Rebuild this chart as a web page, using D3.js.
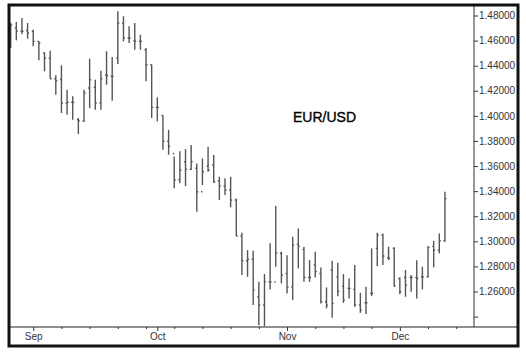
<!DOCTYPE html>
<html>
<head>
<meta charset="utf-8">
<style>
    body { margin: 0; background: #ffffff; }
    text.ylabel { font-family: Arial, "Liberation Sans", sans-serif; font-size: 10px; fill: #333; }
    text.xlabel { font-family: Arial, "Liberation Sans", sans-serif; font-size: 10px; fill: #333; text-anchor: middle; }
    text.title { font-family: Arial, "Liberation Sans", sans-serif; font-size: 14px; fill: #000; stroke: #000; stroke-width: 0.35px; }
    .bars line { stroke: #555; stroke-width: 1.4px; }
</style>
</head>
<body>
<svg width="526" height="354" id="chart"></svg>

<script charset="utf-8" src="https://d3js.org/d3.v7.min.js"></script>
<script charset="utf-8">

// daily EUR/USD bars, 26 Aug 2008 .. 11 Dec 2008 (one per trading day)
var open  = [1.4600,1.4700,1.4676,1.4680,1.4674,1.4594,1.4500,1.4460,1.4296,1.4290,
             1.4102,1.4108,1.3970,1.3960,1.4222,1.4227,1.4102,1.4328,1.4315,1.4461,
             1.4740,1.4621,1.4600,1.4594,1.4527,1.4408,1.4068,1.4004,1.3797,1.3700,
             1.3491,1.3634,1.3574,1.3582,1.3395,1.3600,1.3608,1.3483,1.3440,1.3409,
             1.3329,1.3042,1.2845,1.2856,1.2558,1.2492,1.2677,1.2677,1.2904,1.2744,
             1.2637,1.2976,1.2936,1.2712,1.2811,1.2744,1.2518,1.2771,1.2717,1.2643,
             1.2625,1.2617,1.2492,1.2510,1.2585,1.2944,1.3050,1.2870,1.2944,1.2704,
             1.2712,1.2712,1.2712,1.2717,1.2717,1.2960,1.2930,1.3004];
var high  = [1.4740,1.4748,1.4780,1.4740,1.4687,1.4594,1.4507,1.4519,1.4323,1.4403,
             1.4208,1.4156,1.3983,1.4208,1.4456,1.4288,1.4360,1.4515,1.4469,1.4833,
             1.4794,1.4714,1.4740,1.4647,1.4541,1.4408,1.4148,1.4004,1.3889,1.3677,
             1.3717,1.3735,1.3767,1.3621,1.3661,1.3754,1.3688,1.3515,1.3502,1.3515,
             1.3342,1.3068,1.2930,1.2925,1.2677,1.2739,1.2984,1.3281,1.2917,1.2890,
             1.3036,1.3103,1.2956,1.2850,1.2917,1.2792,1.2633,1.2845,1.2829,1.2739,
             1.2704,1.2811,1.2590,1.2637,1.2944,1.3068,1.3063,1.2956,1.2952,1.2712,
             1.2771,1.2731,1.2850,1.2797,1.2962,1.3004,1.3063,1.3395];
var low   = [1.4541,1.4602,1.4652,1.4615,1.4554,1.4443,1.4355,1.4296,1.4168,1.4023,
             1.4009,1.3969,1.3855,1.3951,1.4062,1.4049,1.4049,1.4248,1.4121,1.4413,
             1.4594,1.4581,1.4527,1.4527,1.4275,1.3983,1.3956,1.3730,1.3690,1.3424,
             1.3462,1.3440,1.3568,1.3236,1.3448,1.3554,1.3467,1.3329,1.3369,1.3271,
             1.3042,1.2731,1.2717,1.2492,1.2332,1.2324,1.2617,1.2797,1.2665,1.2585,
             1.2531,1.2784,1.2677,1.2677,1.2712,1.2505,1.2465,1.2390,1.2563,1.2510,
             1.2545,1.2478,1.2430,1.2420,1.2563,1.2802,1.2811,1.2850,1.2637,1.2579,
             1.2558,1.2598,1.2545,1.2617,1.2712,1.2792,1.2904,1.2996];
var close = [1.4724,1.4676,1.4674,1.4660,1.4594,1.4581,1.4460,1.4296,1.4280,1.4102,
             1.4108,1.4108,1.3960,1.4182,1.4288,1.4102,1.4296,1.4320,1.4315,1.4740,
             1.4621,1.4621,1.4594,1.4594,1.4408,1.4068,1.4068,1.3797,1.3757,1.3491,
             1.3568,1.3574,1.3634,1.3395,1.3554,1.3568,1.3475,1.3440,1.3409,1.3329,
             1.3042,1.2845,1.2856,1.2611,1.2492,1.2677,1.2677,1.2909,1.2731,1.2633,
             1.2970,1.2960,1.2712,1.2712,1.2760,1.2518,1.2490,1.2505,1.2600,1.2531,
             1.2625,1.2492,1.2452,1.2510,1.2585,1.3050,1.2882,1.2864,1.2643,1.2598,
             1.2650,1.2712,1.2704,1.2717,1.2950,1.2930,1.3004,1.3340];

// x axis: bar index of month starts and of the Mondays between them
var monthTicks  = [4, 26, 49, 69];
var monthLabels = ["Sep", "Oct", "Nov", "Dec"];
var weekTicks   = [9, 14, 19, 24, 29, 34, 39, 44, 54, 59, 64, 74, 79];

// y axis
var yTicks = [1.48, 1.46, 1.44, 1.42, 1.40, 1.38, 1.36, 1.34, 1.32, 1.30, 1.28, 1.26, 1.24];
var yLabels = ["1.48000","1.46000","1.44000","1.42000","1.40000","1.38000","1.36000",
               "1.34000","1.32000","1.30000","1.28000","1.26000",""];

var svg = d3.select("#chart");

var frame = {left: 9, top: 5, right: 518, bottom: 346};
var plot = {left: 10, top: 6, right: 474, bottom: 327};

var x = d3.scaleLinear()
    .domain([-0.12, 82.15])
    .range([plot.left, plot.right]);

var y = d3.scaleLinear()
    .domain([1.24, 1.48])
    .range([316.6, 15.5]);

svg.append("defs").append("clipPath")
    .attr("id", "plotclip")
  .append("rect")
    .attr("x", plot.left)
    .attr("y", plot.top)
    .attr("width", plot.right - plot.left)
    .attr("height", plot.bottom - plot.top);

// bars
var bars = svg.append("g")
    .attr("class", "bars")
    .attr("clip-path", "url(#plotclip)")
    .selectAll("g")
    .data(d3.range(high.length))
    .enter().append("g");

bars.append("line")
    .attr("x1", function(i) { return x(i); })
    .attr("x2", function(i) { return x(i); })
    .attr("y1", function(i) { return y(high[i]); })
    .attr("y2", function(i) { return y(low[i]); });

bars.append("line")
    .attr("x1", function(i) { return x(i) - 1.5; })
    .attr("x2", function(i) { return x(i); })
    .attr("y1", function(i) { return y(open[i]); })
    .attr("y2", function(i) { return y(open[i]); });

bars.append("line")
    .attr("x1", function(i) { return x(i); })
    .attr("x2", function(i) { return x(i) + 1.5; })
    .attr("y1", function(i) { return y(close[i]); })
    .attr("y2", function(i) { return y(close[i]); });

// right price axis
var yAxis = d3.axisRight(y)
    .tickValues(yTicks)
    .tickSize(4)
    .tickPadding(1)
    .tickFormat(function(d, i) { return yLabels[i]; });

var gy = svg.append("g")
    .attr("transform", "translate(" + plot.right + ",0)")
    .call(yAxis);
gy.select(".domain").remove();
gy.selectAll("line").attr("stroke", "#333");
gy.selectAll("text").attr("class", "ylabel").attr("font-family", null).attr("font-size", null).attr("fill", null);

svg.append("line")
    .attr("x1", plot.right).attr("x2", plot.right)
    .attr("y1", frame.top).attr("y2", plot.bottom)
    .attr("stroke", "#333").attr("stroke-width", 1);

// bottom date axis
svg.append("line")
    .attr("x1", frame.left).attr("x2", frame.right)
    .attr("y1", plot.bottom).attr("y2", plot.bottom)
    .attr("stroke", "#222").attr("stroke-width", 1.2);

var xAxisMinor = d3.axisBottom(x)
    .tickValues(weekTicks)
    .tickSize(2)
    .tickFormat("");
var gxm = svg.append("g")
    .attr("transform", "translate(0," + plot.bottom + ")")
    .call(xAxisMinor);
gxm.select(".domain").remove();
gxm.selectAll("line").attr("stroke", "#333");

var xAxis = d3.axisBottom(x)
    .tickValues(monthTicks)
    .tickSize(4)
    .tickPadding(2)
    .tickFormat(function(d, i) { return monthLabels[i]; });
var gx = svg.append("g")
    .attr("transform", "translate(0," + plot.bottom + ")")
    .call(xAxis);
gx.select(".domain").remove();
gx.selectAll("line").attr("stroke", "#333");
gx.selectAll("text").attr("class", "xlabel").attr("font-family", null).attr("font-size", null).attr("fill", null);

// title
svg.append("text")
    .attr("class", "title")
    .attr("x", 293)
    .attr("y", 122)
    .text("EUR/USD");

// outer frame
svg.append("rect")
    .attr("x", frame.left)
    .attr("y", frame.top)
    .attr("width", frame.right - frame.left)
    .attr("height", frame.bottom - frame.top)
    .attr("fill", "none")
    .attr("stroke", "#111")
    .attr("stroke-width", 3);

</script>
</body>
</html>
